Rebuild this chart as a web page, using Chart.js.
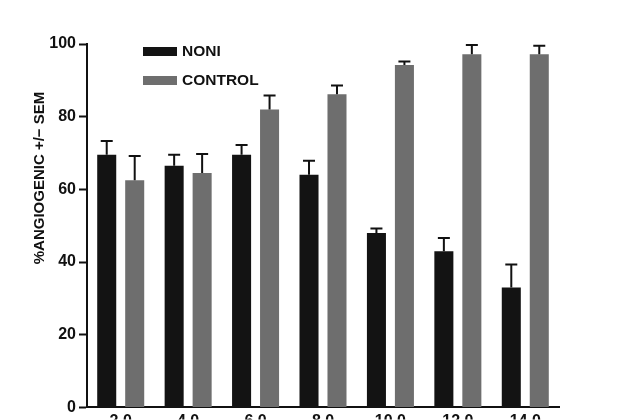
<!DOCTYPE html>
<html>
<head>
<meta charset="utf-8">
<script src="https://cdn.jsdelivr.net/npm/chart.js@4"></script>
<style>
html,body{margin:0;padding:0;background:#fff;}
canvas{display:block;}
</style>
</head>
<body>
<canvas id="c" width="640" height="420"></canvas>
<script>
const categories = ["2.0", "4.0", "6.0", "8.0", "10.0", "12.0", "14.0"];
const noniValues = [69.5, 66.5, 69.5, 64, 48, 43, 33];
const noniErrors = [3.8, 3, 2.7, 3.9, 1.2, 3.6, 6.3];
const controlValues = [62.5, 64.5, 82, 86.2, 94.2, 97.2, 97.2];
const controlErrors = [6.7, 5.2, 3.8, 2.4, 1, 2.5, 2.3];
const yTicks = [0, 20, 40, 60, 80, 100];
const yTitle = "%ANGIOGENIC +/\u2212 SEM";
const seriesNames = ["NONI", "CONTROL"];

const FONT = "'Liberation Sans', Arial, sans-serif";

const errorBars = {
  id: 'errorBars',
  afterDatasetsDraw(chart) {
    const ctx = chart.ctx;
    const y = chart.scales.y;
    ctx.save();
    ctx.strokeStyle = '#111';
    ctx.lineWidth = 2;
    chart.data.datasets.forEach((ds, di) => {
      const meta = chart.getDatasetMeta(di);
      meta.data.forEach((bar, i) => {
        const v = ds.data[i], e = ds.errors[i];
        const yTop = y.getPixelForValue(v + e);
        const yBar = y.getPixelForValue(v);
        ctx.beginPath();
        ctx.moveTo(bar.x, yBar);
        ctx.lineTo(bar.x, yTop);
        ctx.moveTo(bar.x - 6, yTop);
        ctx.lineTo(bar.x + 6, yTop);
        ctx.stroke();
      });
    });
    ctx.restore();
  }
};

const customLegend = {
  id: 'customLegend',
  afterDraw(chart) {
    const ctx = chart.ctx;
    ctx.save();
    ctx.font = "bold 15.5px " + FONT;
    ctx.textBaseline = 'middle';
    ctx.fillStyle = '#111';
    chart.data.datasets.forEach((ds, i) => {
      const top = 47 + i * 29;
      ctx.fillStyle = ds.backgroundColor;
      ctx.fillRect(143, top, 34, 9);
      ctx.fillStyle = '#111';
      ctx.fillText(ds.label, 182, top + 5);
    });
    ctx.restore();
  }
};

const yAxisTitle = {
  id: 'yAxisTitle',
  afterDraw(chart) {
    const ctx = chart.ctx;
    ctx.save();
    ctx.translate(40, 178);
    ctx.rotate(-Math.PI / 2);
    ctx.font = "bold 15px " + FONT;
    ctx.fillStyle = '#111';
    ctx.textAlign = 'center';
    ctx.textBaseline = 'middle';
    ctx.fillText(yTitle, 0, 0);
    ctx.restore();
  }
};

new Chart(document.getElementById('c'), {
  type: 'bar',
  data: {
    labels: categories,
    datasets: [
      { label: seriesNames[0], data: noniValues, errors: noniErrors, backgroundColor: '#131313',
        categoryPercentage: 0.83, barPercentage: 0.68 },
      { label: seriesNames[1], data: controlValues, errors: controlErrors, backgroundColor: '#6e6e6e',
        categoryPercentage: 0.83, barPercentage: 0.68 }
    ]
  },
  options: {
    responsive: false,
    animation: false,
    layout: { padding: { top: 44, right: 81, left: 0, bottom: 0 } },
    plugins: { legend: { display: false }, tooltip: { enabled: false } },
    scales: {
      x: {
        grid: { display: true, drawOnChartArea: false, drawTicks: false },
        border: { display: true, color: '#111', width: 2 },
        ticks: { color: '#111', font: { family: FONT, size: 16, weight: 'bold' }, padding: 5, maxRotation: 0 },
        afterFit(scale) { scale.height = 12; }
      },
      y: {
        min: 0, max: 100,
        afterBuildTicks(scale) { scale.ticks = yTicks.map(v => ({ value: v })); },
        grid: { display: true, drawOnChartArea: false, drawTicks: true, tickLength: 8, tickColor: '#111', tickWidth: 2 },
        border: { display: true, color: '#111', width: 2 },
        ticks: { color: '#111', font: { family: FONT, size: 16, weight: 'bold' }, padding: 3 },
        afterFit(scale) { scale.width = 87; }
      }
    }
  },
  plugins: [errorBars, customLegend, yAxisTitle]
});
</script>
</body>
</html>
